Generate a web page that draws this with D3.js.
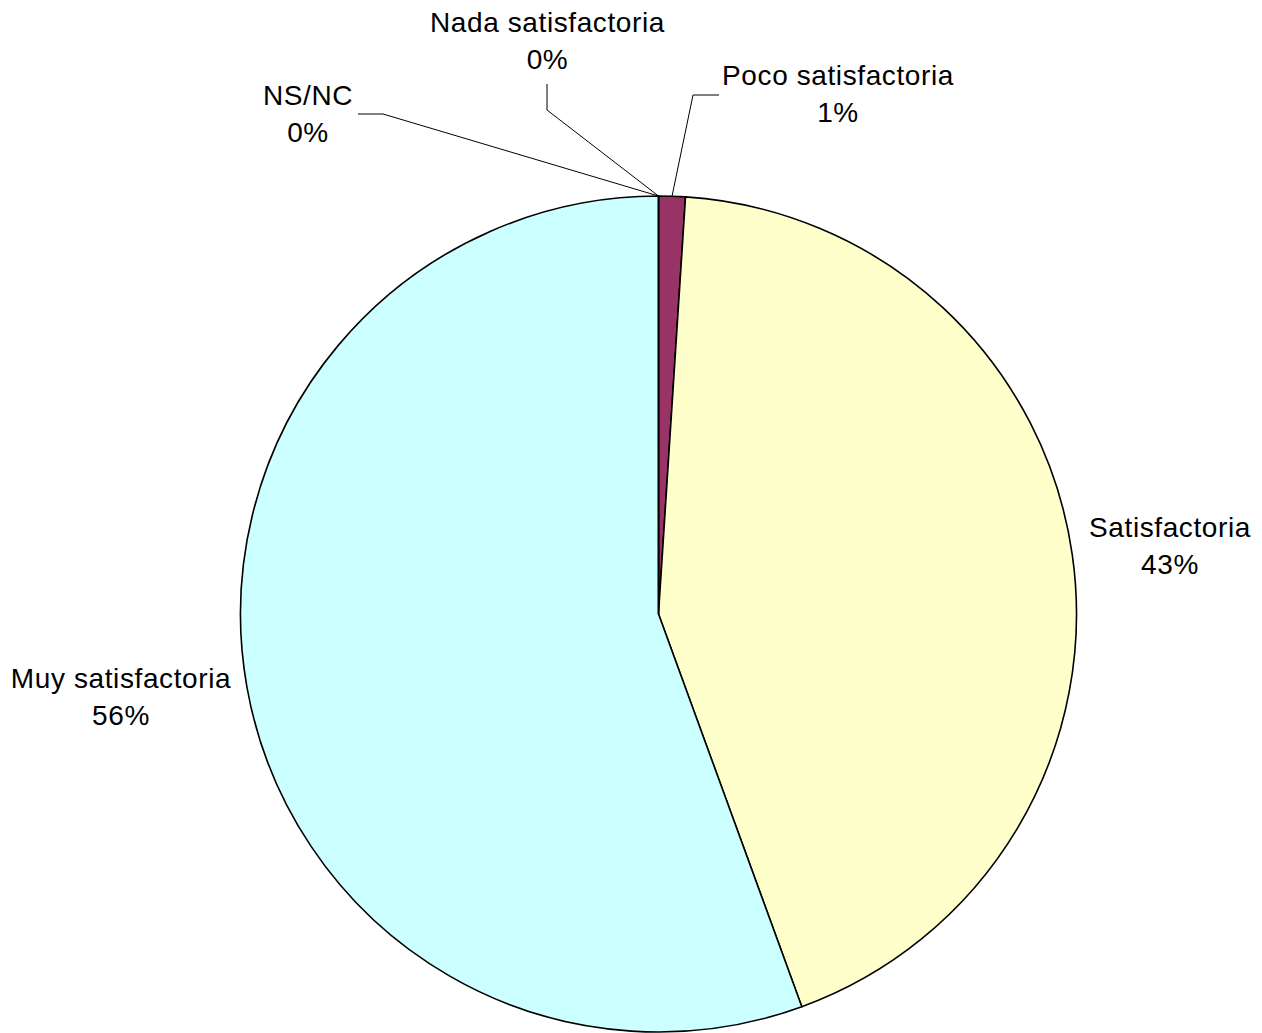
<!DOCTYPE html>
<html><head><meta charset="utf-8">
<script src="https://cdn.jsdelivr.net/npm/d3@7"></script>
<style>html,body{margin:0;padding:0;background:#fff;}svg{display:block;}</style>
</head><body>
<svg id="c" width="1262" height="1033"></svg>
<script>
const categories = ["Nada satisfactoria", "Poco satisfactoria", "Satisfactoria", "Muy satisfactoria", "NS/NC"];
const values = [0, 1.03, 43.4, 55.57, 0];
const colors = ["#FF8080", "#993366", "#FFFFCC", "#CCFFFF", "#C0C0C0"];

const svg = d3.select("#c");
const cx = 658.5, cy = 614, R = 418;
const total = d3.sum(values);
const fmt = v => Math.round(v / total * 100) + "%";

const pie = d3.pie().sort(null).value(d => d)(values);
const arc = d3.arc().innerRadius(0).outerRadius(R);
const g = svg.append("g").attr("transform", `translate(${cx},${cy})`);

g.selectAll("path").data(pie).join("path")
  .attr("d", arc)
  .attr("fill", (d, i) => colors[i])
  .attr("stroke", "#000")
  .attr("stroke-width", 1.6)
  .attr("stroke-linejoin", "round");

const layout = [
  {x: 547.5, y: 32, elbow: [[547, 84], [547, 110]]},
  {x: 838, y: 85, elbow: [[719, 95], [693, 95]]},
  {x: 1170, y: 537, elbow: null},
  {x: 121, y: 688, elbow: null},
  {x: 308, y: 105, elbow: [[358, 114], [383, 114]]}
];

pie.forEach((d, i) => {
  const L = layout[i];
  if (L.elbow) {
    const mid = (d.startAngle + d.endAngle) / 2;
    const ex = cx + R * Math.sin(mid), ey = cy - R * Math.cos(mid);
    svg.append("path")
      .attr("d", d3.line()([...L.elbow, [ex, ey]]))
      .attr("fill", "none").attr("stroke", "#000").attr("stroke-width", 1);
  }
  const t = svg.append("text")
    .attr("text-anchor", "middle")
    .attr("font-family", "'Liberation Sans', Arial, sans-serif")
    .attr("font-size", 28)
    .attr("letter-spacing", 0.6)
    .attr("fill", "#000");
  t.append("tspan").attr("x", L.x).attr("y", L.y).text(categories[i]);
  t.append("tspan").attr("x", L.x).attr("y", L.y + 37).text(fmt(values[i]));
});
</script>
</body></html>
